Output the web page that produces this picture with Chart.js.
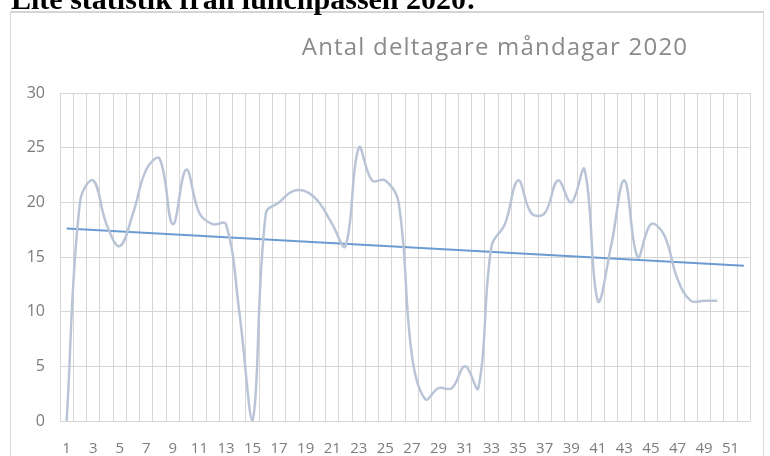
<!DOCTYPE html>
<html>
<head>
<meta charset="utf-8">
<script src="https://cdn.jsdelivr.net/npm/chart.js@4.4.1/dist/chart.umd.min.js"></script>
<style>
  html, body { margin: 0; padding: 0; background: #fff; overflow: hidden; }
  body { width: 770px; height: 456px; position: relative; }
  #heading {
    position: absolute; left: 11px; top: -16px; margin: 0; z-index: 2;
    font: bold 30px "Liberation Serif", "Times New Roman", serif;
    line-height: 30px; color: #000; white-space: nowrap;
  }
  #frame {
    position: absolute; left: 10px; top: 11px; width: 752px; height: 460px;
    border: 1px solid #dcdcdc; border-top: 2px solid #d4d4d4;
  }
  #wrap { position: absolute; left: 0; top: 0; width: 752px; height: 443px; }
</style>
</head>
<body>
<h1 id="heading">Lite statistik från lunchpassen 2020:</h1>
<div id="frame"><div id="wrap"><canvas id="chart"></canvas></div></div>
<script>
// veckor (kategorier)
const weeks = ['1','2','3','4','5','6','7','8','9','10','11','12','13','14','15','16','17','18','19','20',
  '21','22','23','24','25','26','27','28','29','30','31','32','33','34','35','36','37','38','39','40',
  '41','42','43','44','45','46','47','48','49','50','51','52'];

// antal deltagare per måndag
const participants = [0, 20, 22, 18, 16, 19, 23, 24, 18, 23, 19, 18, 18, 10, 0, 19, 20, 21, 21, 20,
  18, 16, 25, 22, 22, 20, 6, 2, 3, 3, 5, 3, 16, 18, 22, 19, 19, 22, 20, 23,
  11, 16, 22, 15, 18, 17, 13, 11, 11, 11, null, null];

// linjär trendlinje, start- och slutvärde
const trendWeeks = ['1', '52'];
const trendValues = [17.6, 14.2];

const yTicks = [0, 5, 10, 15, 20, 25, 30];

const chartTitle = 'Antal deltagare måndagar 2020';

const gridColor = '#d6d6d6';
const textColor = '#7c7c7c';

// titeln ligger till höger om mitten i originalet
const titlePlugin = {
  id: 'offsetTitle',
  afterDraw(chart) {
    const ctx = chart.ctx;
    ctx.save();
    ctx.font = '24px "Open Sans", sans-serif';
    ctx.letterSpacing = '1.2px';
    ctx.fillStyle = '#8a8a8a';
    ctx.textAlign = 'center';
    ctx.textBaseline = 'middle';
    ctx.fillText(chartTitle, 484, 35);
    ctx.restore();
  }
};

new Chart(document.getElementById('chart'), {
  type: 'line',
  data: {
    labels: weeks,
    datasets: [
      {
        label: 'Deltagare',
        data: participants,
        borderColor: '#b9c5d7',
        borderWidth: 2.5,
        pointRadius: 0,
        tension: 0.4,
        fill: false
      },
      {
        label: 'Trend',
        data: trendWeeks.map((w, i) => ({ x: w, y: trendValues[i] })),
        borderColor: '#6b9bd2',
        borderWidth: 2,
        pointRadius: 0,
        tension: 0,
        fill: false
      }
    ]
  },
  options: {
    responsive: true,
    maintainAspectRatio: false,
    animation: false,
    layout: { padding: { left: 0, right: 12, top: 80, bottom: 0 } },
    plugins: {
      legend: { display: false },
      title: { display: false },
      tooltip: { enabled: false }
    },
    scales: {
      x: {
        type: 'category',
        offset: true,
        grid: { color: gridColor, lineWidth: 1, offset: true, drawTicks: false },
        border: { display: false },
        ticks: {
          autoSkip: false,
          maxRotation: 0,
          padding: 19,
          color: textColor,
          font: { family: '"Open Sans", sans-serif', size: 15 },
          callback: (v, i) => (i % 2 === 0 ? weeks[i] : '')
        },
        afterFit: (s) => { s.height = 35; }
      },
      y: {
        min: 0,
        max: 30,
        afterBuildTicks: (s) => { s.ticks = yTicks.map(v => ({ value: v })); },
        grid: { color: gridColor, lineWidth: 1, drawTicks: false },
        border: { display: false },
        ticks: {
          padding: 15,
          color: textColor,
          font: { family: '"Open Sans", sans-serif', size: 16 }
        },
        afterFit: (s) => { s.width = 49; }
      }
    }
  },
  plugins: [titlePlugin]
});
</script>
</body>
</html>
